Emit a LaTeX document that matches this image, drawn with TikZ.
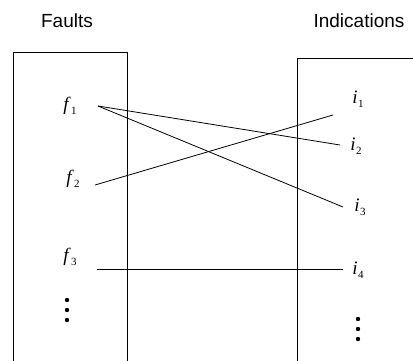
\documentclass[tikz,border=0pt]{standalone}
\usepackage{fontspec}
\setmainfont{Liberation Sans}
\newfontfamily\labelfont{Liberation Serif}
\newcommand{\sym}[2]{{\labelfont\fontsize{19}{22}\selectfont\itshape #1\/\kern0.5pt\lower4pt\hbox{\upshape\fontsize{11}{12}\selectfont #2}}}
\begin{document}
\begin{tikzpicture}[x = 1pt, y = -1pt, line width = 0.8pt]
\useasboundingbox (0,0) rectangle (413,361);
\begin{scope}
\clip (0,0) rectangle (413,361);
\draw (13,52) rectangle (127,380);
\draw (297,58) rectangle (430,380);
\end{scope}
\node[font = \fontsize{19}{22}\selectfont] (faults) at (67,21) {Faults};
\node[font = \fontsize{19}{22}\selectfont] (indications) at (359,21) {Indications};
\node (f1) at (70,106) {\sym{f}{1}};
\node (f2) at (73,179) {\sym{f}{2}};
\node (f3) at (70,257) {\sym{f}{3}};
\node (i1) at (358,99) {\sym{i}{1}};
\node (i2) at (356,146) {\sym{i}{2}};
\node (i3) at (360,207) {\sym{i}{3}};
\node (i4) at (358,270) {\sym{i}{4}};
\coordinate (f1 out) at (98,106);
\coordinate (f2 out) at (95,185);
\coordinate (f3 out) at (97,269);
\coordinate (i1 in) at (333,115);
\coordinate (i2 in) at (340,145);
\coordinate (i3 in) at (343,207);
\coordinate (i4 in) at (343,269);
\draw (f1 out) -- (i2 in);
\draw (f1 out) -- (i3 in);
\draw (f2 out) -- (i1 in);
\draw (f3 out) -- (i4 in);
\foreach \y in {300, 310, 320} \fill (67,\y) circle (2.2);
\foreach \y in {319, 329, 339} \fill (358,\y) circle (2.2);
\end{tikzpicture}
\end{document}
